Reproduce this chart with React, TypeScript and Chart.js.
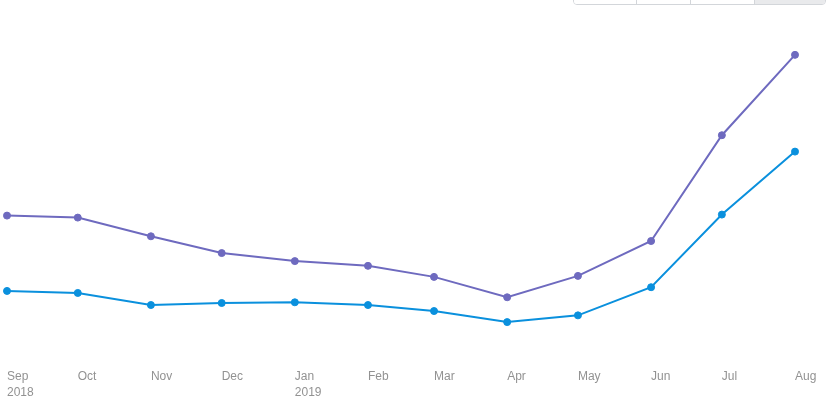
import React, { useEffect, useRef } from "react";
import { Chart, registerables } from "chart.js";

Chart.register(...registerables);

const dates = [
  "2018-09-01", "2018-10-01", "2018-11-01", "2018-12-01",
  "2019-01-01", "2019-02-01", "2019-03-01", "2019-04-01",
  "2019-05-01", "2019-06-01", "2019-07-01", "2019-08-01",
];
const monthLabels = ["Sep", "Oct", "Nov", "Dec", "Jan", "Feb", "Mar", "Apr", "May", "Jun", "Jul", "Aug"];
const yearLabels = ["2018", "", "", "", "2019", "", "", "", "", "", "", ""];

const purpleValues = [149.3, 147.3, 128.7, 112, 104, 99.3, 88.3, 68, 89.3, 124, 229.3, 309.3];
const blueValues = [74.3, 72.3, 60.3, 62.3, 63, 60.3, 54.3, 43.3, 50, 78, 150.3, 213];

const DAY = 86400000;
const start = Date.parse(dates[0]);
const dayOffsets = dates.map((d) => (Date.parse(d) - start) / DAY);

export default function App() {
  const ref = useRef<HTMLCanvasElement | null>(null);

  useEffect(() => {
    if (!ref.current) return;
    const purple = "#6e6abf";
    const blue = "#0a90dd";
    const chart = new Chart(ref.current, {
      type: "line",
      data: {
        datasets: [
          {
            label: "A",
            data: dayOffsets.map((x, i) => ({ x, y: purpleValues[i] })),
            borderColor: purple,
            backgroundColor: purple,
            pointBackgroundColor: purple,
            pointBorderColor: purple,
            borderWidth: 2,
            pointRadius: 3.5,
            pointBorderWidth: 1,
            tension: 0,
            fill: false,
            clip: false,
          },
          {
            label: "B",
            data: dayOffsets.map((x, i) => ({ x, y: blueValues[i] })),
            borderColor: blue,
            backgroundColor: blue,
            pointBackgroundColor: blue,
            pointBorderColor: blue,
            borderWidth: 2,
            pointRadius: 3.5,
            pointBorderWidth: 1,
            tension: 0,
            fill: false,
            clip: false,
          },
        ],
      },
      options: {
        animation: false,
        responsive: false,
        maintainAspectRatio: false,
        layout: { padding: { left: 7, right: 31, top: 24, bottom: 21 } },
        plugins: { legend: { display: false }, tooltip: { enabled: false } },
        scales: {
          x: {
            type: "linear",
            min: dayOffsets[0],
            max: dayOffsets[dayOffsets.length - 1],
            grid: { display: false },
            border: { display: false },
            afterBuildTicks: (scale: any) => {
              scale.ticks = dayOffsets.map((v) => ({ value: v }));
            },
            ticks: {
              autoSkip: false,
              maxRotation: 0,
              minRotation: 0,
              align: "start",
              padding: -5,
              color: "#929292",
              font: { family: "'Liberation Sans', Arial, sans-serif", size: 12, lineHeight: 1.35 },
              callback: (_v: any, i: number) =>
                yearLabels[i] ? [monthLabels[i], yearLabels[i]] : monthLabels[i],
            },
          },
          y: {
            display: false,
            min: 0,
            max: 340,
          },
        },
      },
    });
    return () => chart.destroy();
  }, []);

  const seg = (w: number, last = false, active = false): React.CSSProperties => ({
    width: w,
    height: "100%",
    boxSizing: "border-box",
    borderRight: last ? "none" : "1px solid #d3d6da",
    background: active ? "#e9eaec" : "#ffffff",
  });

  return (
    <div style={{ position: "absolute", left: 0, top: 0, width: 826, height: 417, background: "#fff", overflow: "hidden" }}>
      <canvas ref={ref} width={826} height={417} style={{ position: "absolute", left: 0, top: 0, width: 826, height: 417 }} />
      <div
        style={{
          position: "absolute",
          left: 573,
          top: -26,
          width: 253,
          height: 31,
          boxSizing: "border-box",
          border: "1px solid #d3d6da",
          borderRadius: 4,
          display: "flex",
          overflow: "hidden",
        }}
      >
        <div style={seg(63)} />
        <div style={seg(54)} />
        <div style={seg(64)} />
        <div style={seg(70, true, true)} />
      </div>
    </div>
  );
}
